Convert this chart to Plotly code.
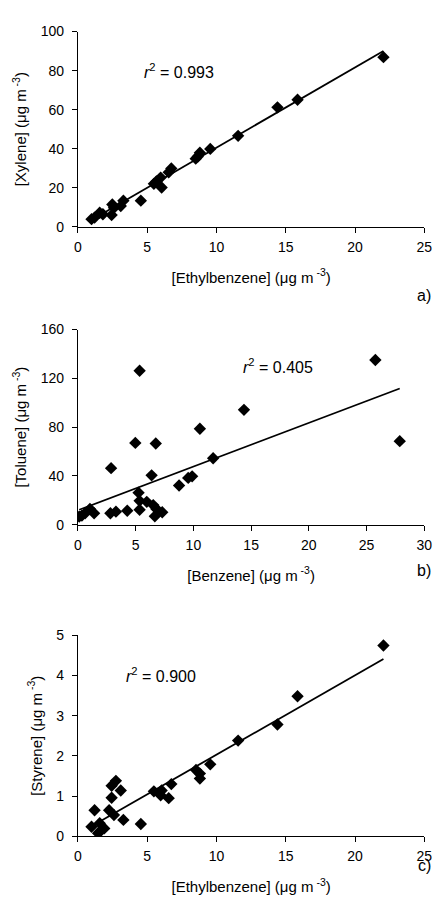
import numpy as np
import plotly.graph_objects as go

# Panel a: Ethylbenzene vs Xylene
eb_a = [22.05, 15.85, 14.4, 11.56, 9.55, 8.8, 8.5, 8.65, 6.74, 6.55, 5.97, 5.66, 5.48, 6.04,
        4.54, 3.28, 3.09, 2.48, 2.43, 1.8, 1.57, 0.98, 1.2, 2.6]
xyl_a = [86.9, 65.1, 61.2, 46.6, 39.9, 37.9, 34.9, 36.0, 29.9, 27.9, 25.2, 23.2, 22.0, 20.1,
         13.4, 13.4, 10.6, 11.4, 6.0, 6.4, 7.2, 3.9, 4.7, 9.7]

# Panel b: Benzene vs Toluene
bz_b = [25.76, 27.87, 5.34, 14.38, 10.56, 4.97, 6.74, 11.71, 2.87, 6.38, 9.89, 9.55, 8.76,
        5.25, 5.34, 5.96, 6.52, 6.8, 5.34, 4.27, 3.29, 2.81, 7.3, 6.66, 1.4, 1.04, 0.34, 0.11, 0.62]
tol_b = [135.0, 68.5, 126.2, 94.2, 78.7, 67.1, 66.6, 54.5, 46.4, 40.5, 39.7, 38.4, 32.2,
         26.3, 19.6, 18.8, 16.1, 12.9, 12.3, 11.5, 10.7, 9.4, 10.2, 7.0, 9.4, 12.9, 7.5, 6.7, 9.4]

# Panel c: Ethylbenzene vs Styrene
eb_c = [22.05, 15.85, 14.4, 11.56, 9.55, 8.52, 8.8, 8.8, 6.74, 6.55, 6.04, 5.97, 5.48, 4.54,
        3.28, 3.09, 2.74, 2.43, 2.43, 2.25, 2.6, 1.2, 0.98, 1.57, 1.68, 1.9, 1.45]
sty_c = [4.74, 3.48, 2.78, 2.38, 1.79, 1.65, 1.56, 1.44, 1.30, 0.95, 1.14, 1.02, 1.12, 0.31,
         0.41, 1.14, 1.38, 1.26, 0.96, 0.65, 0.53, 0.65, 0.24, 0.33, 0.15, 0.20, 0.08]

r2_labels = ["0.993", "0.405", "0.900"]
panel_labels = ["a)", "b)", "c)"]

FONT = "Liberation Sans, Arial, sans-serif"
W, H = 444, 909

panels = [
    dict(x=eb_a, y=xyl_a, xr=[0, 25], xd=5, yr=[0, 100], yd=20,
         xt="[Ethylbenzene] (μg m<sup> -3</sup>)", yt="[Xylene] (μg m<sup> -3</sup>)",
         top=24, bot=222.7, r2pos=(4.6, 80)),
    dict(x=bz_b, y=tol_b, xr=[0, 30], xd=5, yr=[0, 160], yd=40,
         xt="[Benzene] (μg m<sup> -3</sup>)", yt="[Toluene] (μg m<sup> -3</sup>)",
         top=327.3, bot=526, r2pos=(14.1, 130)),
    dict(x=eb_c, y=sty_c, xr=[0, 25], xd=5, yr=[0, 5], yd=1,
         xt="[Ethylbenzene] (μg m<sup> -3</sup>)", yt="[Styrene] (μg m<sup> -3</sup>)",
         top=638.3, bot=843.3, r2pos=(3.3, 4.0)),
]

fig = go.Figure()
x0p, x1p = 76 / W, 432 / W
annotations = []
for i, p in enumerate(panels):
    n = "" if i == 0 else str(i + 1)
    xa, ya = "x" + n, "y" + n
    xs = np.array(p["x"]); ys = np.array(p["y"])
    slope, inter = np.polyfit(xs, ys, 1)
    lx = np.array([xs.min(), xs.max()])
    fig.add_trace(go.Scatter(x=lx, y=slope * lx + inter, mode="lines",
                             line=dict(color="black", width=1.8),
                             xaxis=xa, yaxis=ya, showlegend=False, hoverinfo="skip"))
    fig.add_trace(go.Scatter(x=xs, y=ys, mode="markers",
                             marker=dict(symbol="diamond", size=9.5, color="black"),
                             xaxis=xa, yaxis=ya, showlegend=False))
    axcommon = dict(showgrid=False, zeroline=False, showline=True, linecolor="black",
                    linewidth=1, ticks="outside", ticklen=5, tickcolor="black",
                    tickfont=dict(family=FONT, size=14, color="black"))
    fig.layout["xaxis" + n] = dict(range=p["xr"], dtick=p["xd"], tick0=0,
                                   domain=[x0p, x1p], anchor=ya, ticklabelstandoff=2,
                                   title=dict(text=p["xt"], font=dict(family=FONT, size=15, color="black"),
                                              standoff=18), **axcommon)
    fig.layout["yaxis" + n] = dict(range=p["yr"], dtick=p["yd"], tick0=0,
                                   domain=[1 - p["bot"] / H, 1 - p["top"] / H], anchor=xa,
                                   ticklabelstandoff=5,
                                   title=dict(text=p["yt"], font=dict(family=FONT, size=15, color="black"),
                                              standoff=10), **axcommon)
    annotations.append(dict(x=p["r2pos"][0], y=p["r2pos"][1], xref=xa, yref=ya,
                            text="<i>r</i><sup>2</sup> = " + r2_labels[i], showarrow=False,
                            xanchor="left", yanchor="middle",
                            font=dict(family=FONT, size=16, color="black")))

label_y = [293, 573, 873]
for i, lab in enumerate(panel_labels):
    annotations.append(dict(x=441 / W, y=1 - label_y[i] / H, xref="paper", yref="paper",
                            text=lab, showarrow=False, xanchor="right", yanchor="middle",
                            font=dict(family=FONT, size=16, color="black")))

fig.update_layout(width=W, height=H, autosize=False,
                  margin=dict(l=0, r=0, t=0, b=0),
                  paper_bgcolor="white", plot_bgcolor="white",
                  annotations=annotations)

fig.write_html("out.html")
